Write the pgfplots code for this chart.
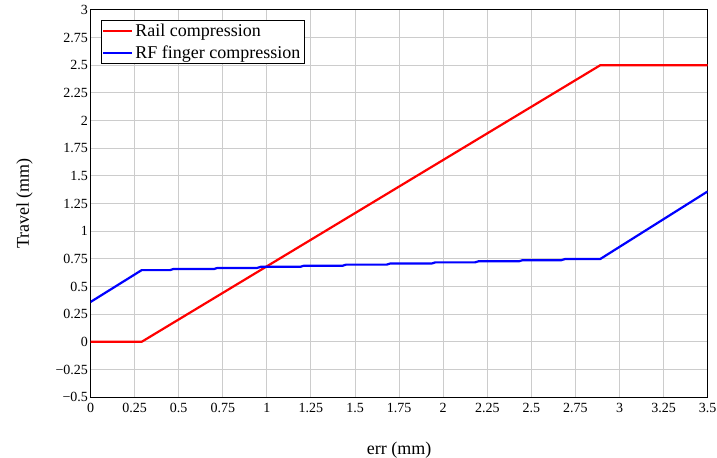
\documentclass[border=0pt]{standalone}
\usepackage{fontspec}
\setmainfont{Liberation Serif}
\usepackage{pgfplots}
\pgfplotsset{compat=1.18}
\begin{document}
\begin{tikzpicture}
\useasboundingbox (-90.5pt,-60pt) rectangle (626.3pt,397pt);
\begin{axis}[
  at={(0pt,0pt)}, anchor=south west,
  scale only axis, width=617pt, height=387pt,
  xmin=0, xmax=3.5, ymin=-0.5, ymax=3,
  xtick={0,0.25,...,3.5},
  xticklabels={0,0.25,0.5,0.75,1,1.25,1.5,1.75,2,2.25,2.5,2.75,3,3.25,3.5},
  ytick={-0.5,-0.25,...,3},
  yticklabels={−0.5,−0.25,0,0.25,0.5,0.75,1,1.25,1.5,1.75,2,2.25,2.5,2.75,3},
  major tick length=0pt,
  grid=major,
  major grid style={color=black!20, line width=1pt},
  axis line style={black, line width=1pt},
  tick label style={font=\fontsize{14}{14}\selectfont},
  yticklabel style={xshift=1pt},
  xticklabel style={yshift=-3pt},
  label style={font=\fontsize{18}{18}\selectfont},
  xlabel={err (mm)},
  ylabel={Travel (mm)},
  xlabel style={yshift=-22pt},
  ylabel style={yshift=16pt},
  legend style={at={(axis description cs:0,1)}, anchor=north west,
    xshift=10pt, yshift=-10pt, draw=black, line width=0.8pt,
    font=\fontsize{18}{18}\selectfont, inner sep=1.5pt,
    row sep=4pt, legend cell align=left},
  legend image code/.code={\draw[#1, line width=2pt] (0pt,0pt) -- (29pt,0pt);},
]
\addplot[red, line width=2.2pt] coordinates {(0,0) (0.29,0) (2.89,2.5) (3.5,2.5)};
\addlegendentry{Rail compression}
\addplot[blue, line width=2.2pt] coordinates {
(0,0.36) (0.29,0.648) (0.45,0.648) (0.47,0.658) (0.70,0.658) (0.72,0.668)
(0.945,0.668) (0.965,0.678) (1.19,0.678) (1.21,0.688) (1.43,0.688) (1.45,0.698)
(1.68,0.698) (1.70,0.708) (1.935,0.708) (1.955,0.718) (2.18,0.718) (2.20,0.728)
(2.43,0.728) (2.45,0.738) (2.67,0.738) (2.69,0.748) (2.89,0.748) (3.5,1.36)};
\addlegendentry{RF finger compression}
\end{axis}
\end{tikzpicture}
\end{document}
